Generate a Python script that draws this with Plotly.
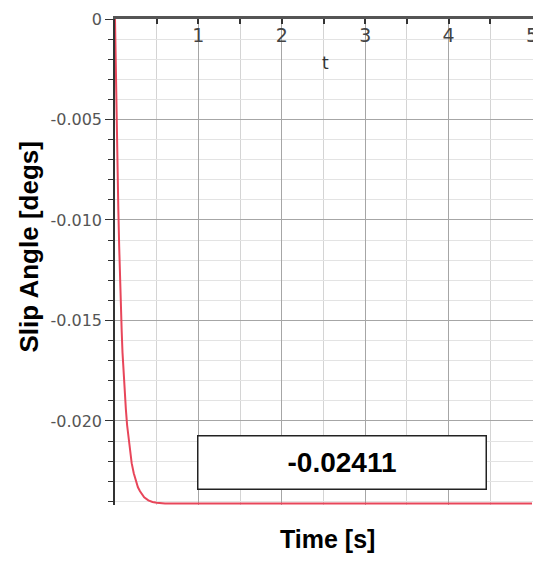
import plotly.graph_objects as go

# Slip angle step response
time_s = [0.00, 0.01, 0.02, 0.03, 0.04, 0.05, 0.06, 0.07, 0.08, 0.09,
          0.10, 0.115, 0.13, 0.145, 0.16, 0.18, 0.20, 0.225, 0.25, 0.275,
          0.30, 0.35, 0.40, 0.45, 0.50, 0.55, 0.60, 1.00, 2.00, 3.00,
          4.00, 5.00]
slip_deg = [0.0, -0.0028, -0.0050, -0.0074, -0.0095, -0.0113, -0.0130,
            -0.0143, -0.0155, -0.0166, -0.0175, -0.0186, -0.0194, -0.0202,
            -0.0208, -0.0215, -0.0221, -0.0226, -0.0230, -0.0233,
            -0.0235, -0.0238, -0.02395, -0.02403, -0.02407, -0.02409,
            -0.02411, -0.02411, -0.02411, -0.02411, -0.02411, -0.02411]

x_tick_vals = [1, 2, 3, 4, 5]
x_tick_text = ["1", "2", "3", "4", "5"]
y_tick_vals = [0, -0.005, -0.010, -0.015, -0.020]
y_tick_text = ["0", "-0.005", "-0.010", "-0.015", "-0.020"]

W, H = 533, 561
L, R, T, B = 115, 0, 19, 56
pw, ph = W - L - R, H - T - B


def px(x):
    return (x - L) / pw


def py(y):
    return (H - B - y) / ph


fig = go.Figure()
fig.add_trace(go.Scatter(
    x=time_s, y=slip_deg, mode="lines",
    line=dict(color="#e8465a", width=2),
    hoverinfo="skip", showlegend=False,
))

fig.update_layout(
    width=W, height=H,
    margin=dict(l=L, r=R, t=T, b=B, autoexpand=False),
    paper_bgcolor="white", plot_bgcolor="white",
    xaxis=dict(
        side="top", range=[0, 5.012], automargin=False,
        tickvals=x_tick_vals, ticktext=x_tick_text,
        ticks="inside", ticklen=5, tickwidth=1.5, tickcolor="#333",
        ticklabelposition="inside", ticklabeloverflow="allow",
        ticklabelstandoff=6,
        tickfont=dict(family="DejaVu Sans", size=19, color="#444"),
        showline=True, linecolor="#555", linewidth=2.5,
        showgrid=True, gridcolor="#a6a6a6", gridwidth=1,
        minor=dict(dtick=0.5, tick0=0, ticks="inside", ticklen=5,
                   tickcolor="#333", showgrid=True, gridcolor="#d4d4d4"),
        zeroline=False, fixedrange=True,
    ),
    yaxis=dict(
        range=[-0.02418, 0], automargin=False,
        tickvals=y_tick_vals, ticktext=y_tick_text,
        ticks="outside", ticklen=8, tickwidth=1.2, tickcolor="#333",
        tickfont=dict(family="DejaVu Sans", size=16, color="#555"),
        showline=True, linecolor="#333", linewidth=1.5,
        showgrid=True, gridcolor="#a6a6a6", gridwidth=1,
        minor=dict(dtick=0.001, tick0=0, ticks="outside", ticklen=5,
                   tickcolor="#333", showgrid=True, gridcolor="#e3e3e3"),
        zeroline=False, fixedrange=True,
    ),
)

bold = dict(family="Liberation Sans", color="black", weight="bold")

fig.add_annotation(
    text="Slip Angle [degs]", textangle=-90,
    xref="paper", yref="paper", x=px(28), y=py(247.5),
    xanchor="center", yanchor="middle", showarrow=False,
    font=dict(size=26, **bold),
)
fig.add_annotation(
    text="Time [s]",
    xref="paper", yref="paper", x=px(327), y=py(539),
    xanchor="center", yanchor="middle", showarrow=False,
    font=dict(size=25, **bold),
)
fig.add_annotation(
    text="t",
    xref="paper", yref="paper", x=px(325), y=py(63),
    xanchor="center", yanchor="middle", showarrow=False,
    font=dict(family="DejaVu Sans", size=17, color="#333"),
)
fig.add_annotation(
    text=f"{slip_deg[-1]:.5f}",
    xref="paper", yref="paper", x=px(342), y=py(462),
    xanchor="center", yanchor="middle", showarrow=False,
    width=287, height=52, borderpad=0,
    bordercolor="#222", borderwidth=1.5, bgcolor="white",
    font=dict(size=28, **bold),
)

fig.write_html("out.html")
